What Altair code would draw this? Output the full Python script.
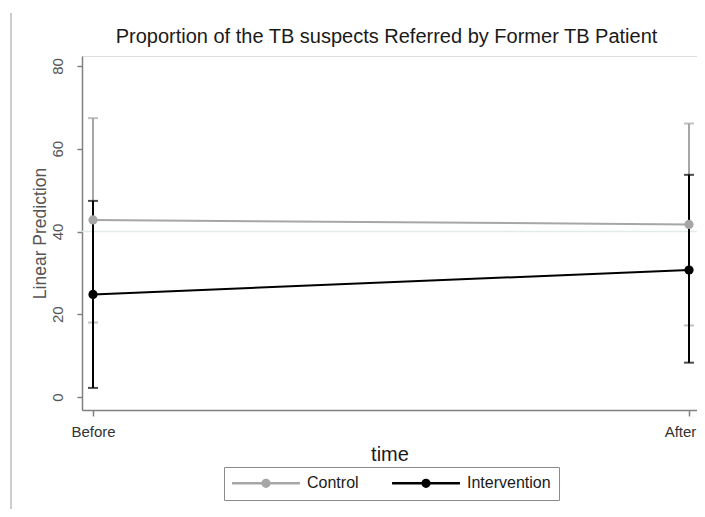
import json
import altair as alt
import pandas as pd

# ---- data ----
times = ["Before", "After"]
groups = ["Control", "Intervention"]
control_mean = [42.8, 41.7]
control_lo = [18.0, 17.3]
control_hi = [67.4, 66.1]
intervention_mean = [24.8, 30.7]
intervention_lo = [2.2, 8.3]
intervention_hi = [47.4, 53.7]
grid_values = [40]
y_ticks = [0, 20, 40, 60, 80]
colors = ["#a6a6a6", "#000000"]

rows = []
for g, ms, los, his in zip(groups, [control_mean, intervention_mean],
                           [control_lo, intervention_lo], [control_hi, intervention_hi]):
    for i, (t, m, lo, hi) in enumerate(zip(times, ms, los, his)):
        rows.append({"group": g, "time": t, "t": i, "mean": m, "lo": lo, "hi": hi})
df = pd.DataFrame(rows)

FONT = "Liberation Sans"
AX = "#808080"

x_axis = alt.Axis(title="time", values=list(range(len(times))),
                  labelExpr=f"{json.dumps(times)}[datum.value]",
                  labelOffset={"expr": "datum.value == 1 ? -9 : 0"},
                  labelAngle=0, labelFontSize=15, labelColor="#333333",
                  labelPadding=8, tickSize=6, tickColor=AX, tickWidth=1.5,
                  domainColor=AX, domainWidth=1.5, titleFontSize=20, titleColor="#1a1a1a",
                  titleFontWeight="normal", titlePadding=5, grid=False,
                  labelFont=FONT, titleFont=FONT)
y_axis = alt.Axis(title="Linear Prediction", values=y_ticks, labelAngle=-90,
                  labelAlign="center", labelBaseline="bottom", labelPadding=12,
                  labelFontSize=15, labelColor="#555555", tickSize=5, tickColor=AX,
                  tickWidth=1.5, domainColor=AX, domainWidth=1.5, titleFontSize=17.5,
                  titleColor="#555555", titleFontWeight="normal", titlePadding=1,
                  grid=False, labelFont=FONT, titleFont=FONT)

x_scale = alt.Scale(domain=[-0.018456, 1.013423], nice=False, zero=False)
y_scale = alt.Scale(domain=[-3.14, 82.42], nice=False, zero=False)


def X():
    return alt.X("t:Q", scale=x_scale, axis=x_axis)


def Y(field):
    return alt.Y(f"{field}:Q", scale=y_scale, axis=y_axis)


color_scale = alt.Scale(domain=groups, range=colors)
color_nolegend = alt.Color("group:N", scale=color_scale, legend=None)

sym_path = ("M-6,0H6"
            "M-0.59,0A0.59,0.59 0 1,1 0.59,0A0.59,0.59 0 1,1 -0.59,0"
            "M-0.36,0A0.36,0.36 0 1,1 0.36,0A0.36,0.36 0 1,1 -0.36,0"
            "M-0.13,0A0.13,0.13 0 1,1 0.13,0A0.13,0.13 0 1,1 -0.13,0")

color_legend = alt.Color(
    "group:N", scale=color_scale,
    legend=alt.Legend(title=None, orient="none", legendX=142, legendY=411,
                      direction="horizontal", strokeColor="#8c8c8c", padding=8,
                      fillColor="white", symbolType=sym_path, symbolSize=128,
                      symbolStrokeWidth=2.5, symbolOffset=26, labelOffset=33,
                      columnPadding=28, labelFontSize=16, labelFont=FONT,
                      labelColor="#1a1a1a"))

base = alt.Chart(df)

layers = []
grid = alt.Chart(pd.DataFrame({"g": grid_values})).mark_rule(
    color="#e1ebeb", strokeWidth=1.5).encode(y=alt.Y("g:Q", scale=y_scale, axis=y_axis))
layers.append(grid)

for g in groups:
    sub = base.transform_filter(alt.datum.group == g)
    layers.append(sub.mark_rule(strokeWidth=2).encode(x=X(), y=Y("lo"), y2="hi:Q",
                                                      color=color_nolegend))
    layers.append(sub.mark_tick(orient="horizontal", size=10, thickness=2).encode(
        x=X(), y=Y("lo"), color=color_nolegend))
    layers.append(sub.mark_tick(orient="horizontal", size=10, thickness=2).encode(
        x=X(), y=Y("hi"), color=color_nolegend))

layers.append(base.mark_line(strokeWidth=2).encode(x=X(), y=Y("mean"), color=color_legend))
layers.append(base.mark_point(filled=True, size=85, opacity=1).encode(
    x=X(), y=Y("mean"), color=color_nolegend))

border = alt.Chart(pd.DataFrame({"a": [0]})).mark_rule(color="#9a9a9a", strokeWidth=1).encode(
    x=alt.value(-71), y=alt.value(-43), y2=alt.value(453))
layers.append(border)

chart = alt.layer(*layers).properties(
    width=615, height=354,
    autosize=alt.AutoSizeParams(type="none"),
    padding={"left": 74, "top": 48, "right": 0, "bottom": 99},
    title=alt.TitleParams("Proportion of the TB suspects Referred by Former TB Patient",
                          fontSize=20, font=FONT, fontWeight="normal", color="#1a1a1a",
                          anchor="middle", baseline="alphabetic", offset=0, dy=50, dx=-3,
                          frame="group"),
).resolve_legend(color="independent").configure_view(stroke="transparent", strokeWidth=0).configure(font=FONT)

chart.save("out.html", embed_options={"renderer": "svg", "actions": False})
